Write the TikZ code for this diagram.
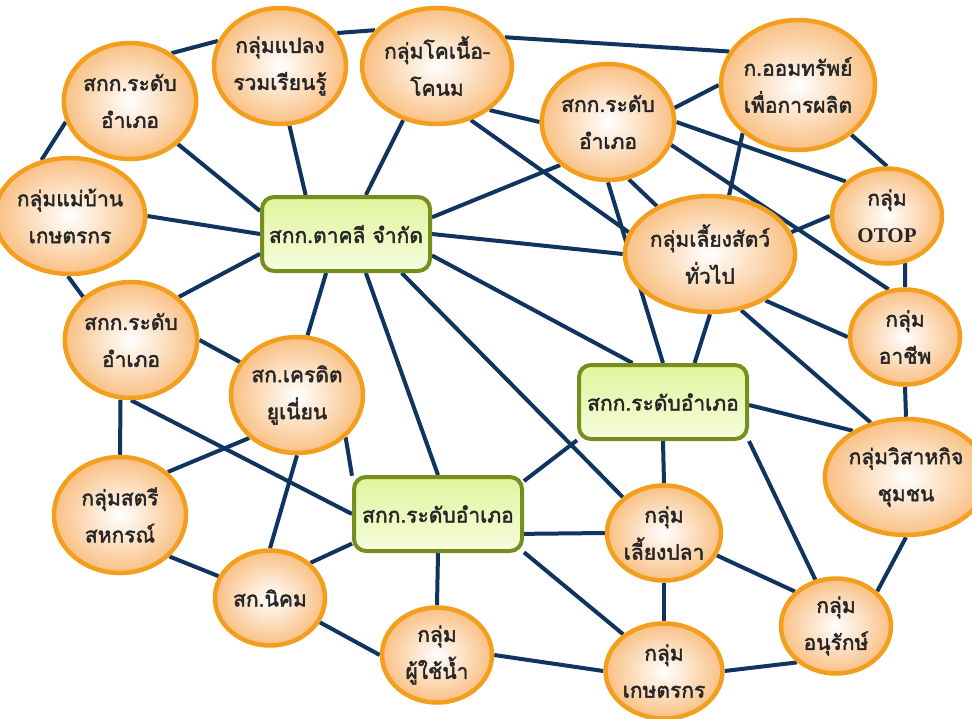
\documentclass[tikz,border=0pt]{standalone}
\usepackage{fontspec}
\newfontfamily\thaifont[Script=Thai, FakeBold=2]{Loma}
\newfontfamily\latinfont{Liberation Serif}
\definecolor{NetNavy}{RGB}{16,52,96}
\definecolor{NetOrange}{RGB}{244,158,30}
\definecolor{NetPeach}{RGB}{249,192,132}
\definecolor{NetOlive}{RGB}{118,142,28}
\definecolor{NetLimeTop}{RGB}{224,243,155}
\definecolor{NetLimeBot}{RGB}{247,253,222}
\usetikzlibrary{
    shapes.geometric,
    backgrounds,
}

\begin{document}
\begin{tikzpicture}[x=1pt, y=-1pt,
        bubble/.style={ellipse, draw=NetOrange, line width=4.5pt, inner color=white, outer color=NetPeach, minimum width=132pt, minimum height=116pt, inner sep=0pt, align=center, text=black!85, font=\thaifont\fontsize{21}{37}\selectfont},
        bubblesmall/.style={bubble, minimum width=110pt, minimum height=95pt},
        hub/.style={rectangle, rounded corners=12pt, draw=NetOlive, line width=4pt, top color=NetLimeTop, bottom color=NetLimeBot, minimum width=168pt, minimum height=74pt, text=black!85, font=\thaifont\fontsize{21}{37}\selectfont},
        link/.style={draw=NetNavy, line width=4pt},
    ]
    \useasboundingbox (0,0) rectangle (972,718);

    % hubs
    \node[hub] (takhli) at (346,234) {สกก.ตาคลี จำกัด};
    \node[hub] (rdB) at (663,402) {สกก.ระดับอำเภอ};
    \node[hub] (rdC) at (438,514) {สกก.ระดับอำเภอ};

    % groups
    \node[bubble] (amphoeA) at (130,101) {สกก.ระดับ\\อำเภอ};
    \node[bubble] (plaeng) at (280,66) {กลุ่มแปลง\\รวมเรียนรู้};
    \node[bubble] (kho) at (437,66) {กลุ่มโคเนื้อ-\\โคนม};
    \node[bubble] (amphoeB) at (608,122) {สกก.ระดับ\\อำเภอ};
    \node[bubble, minimum width=150pt, minimum height=130pt] (omsap) at (798,85) {ก.ออมทรัพย์\\เพื่อการผลิต};
    \node[bubblesmall] (otop) at (887,216) {กลุ่ม\\{\latinfont\bfseries OTOP}};
    \node[bubble] (liang) at (710,254) {กลุ่มเลี้ยงสัตว์\\ทั่วไป};
    \node[bubblesmall] (achip) at (905,337) {กลุ่ม\\อาชีพ};
    \node[bubble] (wisahakit) at (906,477) {กลุ่มวิสาหกิจ\\ชุมชน};
    \node[bubble] (maeban) at (70,216) {กลุ่มแม่บ้าน\\เกษตรกร};
    \node[bubble] (amphoeC) at (131,340) {สกก.ระดับ\\อำเภอ};
    \node[bubble] (credit) at (297,395) {สก.เครดิต\\ยูเนี่ยน};
    \node[bubble] (satri) at (120,515) {กลุ่มสตรี\\สหกรณ์};
    \node[bubblesmall] (nikom) at (270,598) {สก.นิคม};
    \node[bubblesmall] (chainam) at (437,655) {กลุ่ม\\ผู้ใช้น้ำ};
    \node[bubblesmall] (pla) at (664,533) {กลุ่ม\\เลี้ยงปลา};
    \node[bubblesmall] (kaset) at (664,671) {กลุ่ม\\เกษตรกร};
    \node[bubblesmall] (anurak) at (836,626) {กลุ่ม\\อนุรักษ์};

    \begin{scope}[on background layer]
        \fill[white] (0,0) rectangle (972,718);
        % top ring
        \draw[link] (amphoeA.49) -- (plaeng.158);
        \draw[link] (plaeng.30) -- (kho.150);
        \draw[link] (kho.23) -- (omsap.154);
        \draw[link] (amphoeA.198) -- (maeban.117);
        \draw[link] (maeban.268) -- (amphoeC.138);
        % takhli
        \draw[link] (amphoeA.318) -- (takhli.165);
        \draw[link] (plaeng.279) -- (takhli.136);
        \draw[link] (kho.238) -- (takhli.63);
        \draw[link] (maeban.east) -- (takhli.west);
        \draw[link] (amphoeC.42) -- (takhli.193);
        \draw[link] (credit.80) -- (takhli.243);
        \draw[link] (takhli.297) -- (rdC.north);
        \draw[link] (takhli.325) -- (pla.139);
        \draw[link] (takhli.346) -- (rdB.128);
        \draw[link] (takhli.east) -- (liang.west);
        \draw[link] (takhli.11) -- (amphoeB.222);
        % kho
        \draw[link] (kho.320) -- (amphoeB.west);
        \draw[link] (kho.302) -- (liang.165);
        % amphoeB
        \draw[link] (amphoeB.12) -- (omsap.west);
        \draw[link] (amphoeB.east) -- (otop.140);
        \draw[link] (amphoeB.340) -- (achip.109);
        \draw[link] (amphoeB.290) -- (liang.138);
        \draw[link] (amphoeB.south) -- (rdB.north);
        % liang
        \draw[link] (liang.72) -- (omsap.221);
        \draw[link] (liang.15) -- (otop.west);
        \draw[link] (liang.320) -- (achip.west);
        \draw[link] (liang.299) -- (wisahakit.123);
        \draw[link] (liang.south) -- (rdB.51);
        % right column
        \draw[link] (omsap.317) -- (otop.north);
        \draw[link] (otop.291) -- (achip.north);
        \draw[link] (achip.south) -- (wisahakit.north);
        \draw[link] (wisahakit.south) -- (anurak.40);
        % rdB
        \draw[link] (rdB.358) -- (wisahakit.139);
        \draw[link] (rdB.south east) -- (anurak.114);
        \draw[link] (rdB.south) -- (pla.north);
        \draw[link] (rdC.21) -- (rdB.204);
        % left side
        \draw[link] (amphoeC.east) -- (credit.150);
        \draw[link] (amphoeC.260) -- (satri.north);
        \draw[link] (amphoeC.south) -- (rdC.west);
        \draw[link] (credit.222) -- (satri.42);
        \draw[link] (credit.south) -- (nikom.north);
        \draw[link] (credit.319) -- (rdC.156);
        \draw[link] (satri.320) -- (nikom.157);
        \draw[link] (nikom.41) -- (rdC.199);
        \draw[link] (nikom.334) -- (chainam.west);
        % bottom
        \draw[link] (rdC.south) -- (chainam.north);
        \draw[link] (rdC.347) -- (pla.west);
        \draw[link] (rdC.336) -- (kaset.138);
        \draw[link] (chainam.east) -- (kaset.west);
        \draw[link] (pla.south) -- (kaset.north);
        \draw[link] (pla.337) -- (anurak.140);
        \draw[link] (kaset.east) -- (anurak.223);
    \end{scope}
\end{tikzpicture}
\end{document}
